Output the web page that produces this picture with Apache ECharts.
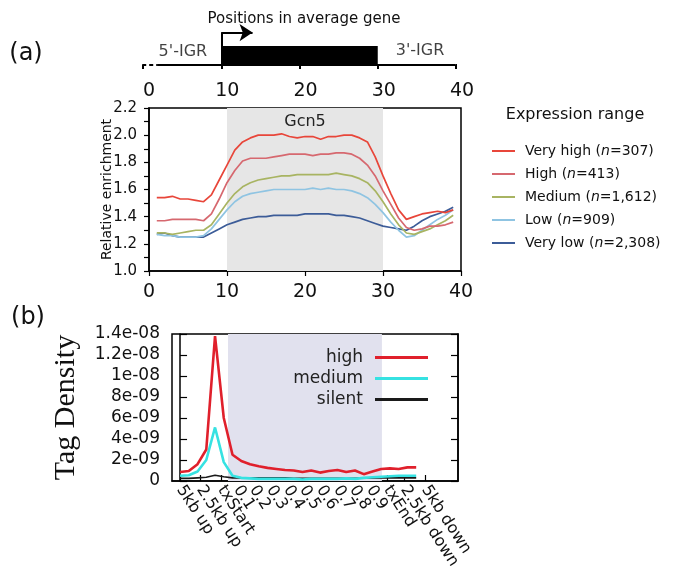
<!DOCTYPE html>
<html>
<head>
<meta charset="utf-8">
<script src="https://cdn.jsdelivr.net/npm/echarts@6/dist/echarts.min.js"></script>
<style>
html, body { margin: 0; padding: 0; background: #fff; }
#chart { width: 679px; height: 588px; }
</style>
</head>
<body>
<div id="chart"></div>
<script>
// ---- panel (a): Gcn5 enrichment over the average gene ----
const positionsA = [1,2,3,4,5,6,7,8,9,10,11,12,13,14,15,16,17,18,19,20,21,22,23,24,25,26,27,28,29,30,31,32,33,34,35,36,37,38,39];
const veryHighA = [1.54,1.54,1.55,1.53,1.53,1.52,1.51,1.56,1.67,1.78,1.89,1.95,1.98,2.00,2.00,2.00,2.01,1.99,1.98,1.99,1.99,1.97,1.99,1.99,2.00,2.00,1.98,1.95,1.84,1.70,1.57,1.45,1.38,1.40,1.42,1.43,1.44,1.43,1.45];
const highA     = [1.37,1.37,1.38,1.38,1.38,1.38,1.37,1.42,1.53,1.65,1.74,1.81,1.83,1.83,1.83,1.84,1.85,1.86,1.86,1.86,1.85,1.86,1.86,1.87,1.87,1.86,1.83,1.78,1.70,1.59,1.49,1.39,1.32,1.30,1.31,1.33,1.33,1.34,1.36];
const mediumA   = [1.28,1.28,1.27,1.28,1.29,1.30,1.30,1.34,1.42,1.50,1.57,1.62,1.65,1.67,1.68,1.69,1.70,1.70,1.71,1.71,1.71,1.71,1.71,1.72,1.71,1.70,1.68,1.65,1.59,1.51,1.42,1.34,1.28,1.27,1.29,1.31,1.34,1.37,1.41];
const lowA      = [1.27,1.26,1.26,1.25,1.25,1.25,1.26,1.31,1.38,1.45,1.51,1.55,1.57,1.58,1.59,1.60,1.60,1.60,1.60,1.60,1.61,1.60,1.61,1.60,1.60,1.59,1.57,1.54,1.49,1.43,1.36,1.30,1.25,1.26,1.30,1.34,1.38,1.41,1.45];
const veryLowA  = [1.27,1.28,1.26,1.25,1.25,1.25,1.25,1.28,1.31,1.34,1.36,1.38,1.39,1.40,1.40,1.41,1.41,1.41,1.41,1.42,1.42,1.42,1.42,1.41,1.41,1.40,1.39,1.37,1.35,1.33,1.32,1.31,1.30,1.33,1.37,1.40,1.42,1.44,1.47];
const namesA  = ["Very high", "High", "Medium", "Low", "Very low"];
const countsA = ["307", "413", "1,612", "909", "2,308"];
const xTicksA = ["0", "10", "20", "30", "40"];
const yTicksA = ["1.0", "1.2", "1.4", "1.6", "1.8", "2.0", "2.2"];
const geneBodyA = [10, 30];

// ---- panel (b): tag density (units of 1e-9) ----
const binsB   = [0,0.5,1,1.5,2,2.5,3,3.5,4,4.5,5,5.5,6,6.5,7,7.5,8,8.5,9,9.5,10,10.5,11,11.5,12,12.5,13,13.5];
const highB   = [0.85,0.95,1.6,3.0,13.8,6.0,2.5,1.9,1.6,1.4,1.25,1.15,1.05,1.0,0.85,1.0,0.8,0.95,1.05,0.85,1.0,0.65,0.9,1.15,1.2,1.15,1.3,1.3];
const mediumB = [0.5,0.55,0.9,2.0,5.1,1.8,0.5,0.3,0.25,0.2,0.2,0.2,0.2,0.2,0.15,0.2,0.2,0.2,0.2,0.25,0.2,0.3,0.35,0.4,0.45,0.5,0.5,0.5];
const silentB = [0.25,0.25,0.3,0.35,0.55,0.4,0.3,0.3,0.3,0.3,0.3,0.3,0.3,0.25,0.25,0.25,0.25,0.25,0.25,0.25,0.25,0.3,0.3,0.3,0.3,0.3,0.3,0.3];
const namesB  = ["high", "medium", "silent"];
const xTicksB = ["5kb up","2.5kb up","txStart","0.1","0.2","0.3","0.4","0.5","0.6","0.7","0.8","0.9","txEnd","2.5kb down","5kb down"];
const xTickPosB = [0,1.14,2.34,3.26,4.17,5.14,6.11,7.03,8,8.97,9.89,10.86,11.83,12.8,14];
const yTicksB = ["0","2e-09","4e-09","6e-09","8e-09","1e-08","1.2e-08","1.4e-08"];
const geneBodyB = [2.74, 11.54];

const colorsA = ["#e8463a", "#d6686f", "#a8b462", "#8fc4e2", "#3c5c98"];
const colorsB = ["#e0202c", "#36e2e2", "#1a1a1a"];
const font = "DejaVu Sans";

let chart = echarts.init(document.getElementById("chart"));

let seriesA = [veryHighA, highA, mediumA, lowA, veryLowA].map(function (vals, k) {
  return {
    name: namesA[k],
    type: "line",
    xAxisIndex: 1,
    yAxisIndex: 1,
    symbol: "none",
    data: positionsA.map(function (p, i) { return [p, vals[i]]; }),
    lineStyle: { color: colorsA[k], width: 1.7 },
    itemStyle: { color: colorsA[k] },
    z: 10 - k,
  };
});
// shaded gene body + label
seriesA[0].markArea = {
  silent: true,
  itemStyle: { color: "#e6e6e6" },
  label: { show: true, position: "insideTop", distance: 6, color: "#222", fontSize: 16, fontFamily: font },
  data: [[{ xAxis: geneBodyA[0], name: "Gcn5" }, { xAxis: geneBodyA[1] }]],
};

let lineW = [2.6, 2.6, 1.6];
let seriesB = [highB, mediumB, silentB].map(function (vals, k) {
  return {
    name: namesB[k],
    type: "line",
    xAxisIndex: 2,
    yAxisIndex: 2,
    symbol: "none",
    data: binsB.map(function (b, i) { return [b, vals[i]]; }),
    lineStyle: { color: colorsB[k], width: lineW[k] },
    itemStyle: { color: colorsB[k] },
    z: 10 - k,
  };
});
seriesB[0].markArea = {
  silent: true,
  itemStyle: { color: "#e1e1ee" },
  data: [[{ xAxis: geneBodyB[0] }, { xAxis: geneBodyB[1] }]],
};

// gene diagram on top
let geneSeries = [
  {
    type: "line", xAxisIndex: 0, yAxisIndex: 0, symbol: "none", silent: true,
    data: [[1.8, 0], [39.9, 0]],
    lineStyle: { color: "#000", width: 2 },
    markArea: {
      silent: true,
      itemStyle: { color: "#000" },
      data: [[{ coord: [geneBodyA[0], 0] }, { coord: [geneBodyA[1], 0.53] }]],
    },
    markLine: {
      silent: true,
      animation: false,
      label: { show: false },
      lineStyle: { color: "#000", width: 2, type: "solid" },
      data: [
        [{ coord: [10, 0], symbol: "none" }, { coord: [10, 0.9], symbol: "none" }],
        [{ coord: [10, 0.9], symbol: "none" }, { coord: [14, 0.9], symbol: "arrow", symbolSize: 13 }],
      ],
    },
  },
  {
    type: "line", xAxisIndex: 0, yAxisIndex: 0, symbol: "none", silent: true, clip: false,
    data: [[-0.1, 0], [1.8, 0]],
    lineStyle: { color: "#000", width: 2, type: [4, 3] },
  },
  {
    type: "line", xAxisIndex: 0, yAxisIndex: 0, symbol: "none", silent: true, clip: false,
    data: [[39.9, 0], [42.4, 0]],
    lineStyle: { color: "#000", width: 2, type: [4, 3] },
  },
  {
    type: "scatter", xAxisIndex: 0, yAxisIndex: 0, symbolSize: 0, silent: true,
    data: [{ value: [5.1, 0.36], name: "5'-IGR" }, { value: [35.4, 0.39], name: "3'-IGR" }],
    label: { show: true, position: "inside", formatter: "{b}", color: "#111", fontSize: 16, fontFamily: font },
  },
];

let option = {
  animation: false,
  backgroundColor: "#fff",
  textStyle: { fontFamily: font },
  graphic: [
    { type: "text", x: 26, y: 54, style: { text: "(a)", fontSize: 24, fontFamily: font, fill: "#111", align: "center", verticalAlign: "middle" } },
    { type: "text", x: 28, y: 318, style: { text: "(b)", fontSize: 24, fontFamily: font, fill: "#111", align: "center", verticalAlign: "middle" } },
    { type: "text", x: 304, y: 19, style: { text: "Positions in average gene", fontSize: 15, fontFamily: font, fill: "#111", align: "center", verticalAlign: "middle" } },
    { type: "text", x: 575, y: 115, style: { text: "Expression range", fontSize: 16, fontFamily: font, fill: "#111", align: "center", verticalAlign: "middle" } },
  ],
  legend: [
    {
      data: namesA,
      orient: "vertical",
      left: 487,
      top: 139,
      icon: "rect",
      itemWidth: 23,
      itemHeight: 2,
      itemGap: 9,
      formatter: function (name) {
        return name + " ({i|n}=" + countsA[namesA.indexOf(name)] + ")";
      },
      textStyle: {
        color: "#111", fontSize: 14, fontFamily: font, lineHeight: 14, padding: [0, 0, 0, 5],
        rich: { i: { fontStyle: "italic", fontSize: 14, fontFamily: font, lineHeight: 14, color: "#111" } },
      },
    },
    {
      data: namesB,
      orient: "vertical",
      align: "right",
      right: 246,
      top: 344,
      icon: "rect",
      itemWidth: 53,
      itemHeight: 3,
      itemGap: 4,
      textStyle: { color: "#222", fontSize: 17, fontFamily: font, lineHeight: 17, padding: [0, 7, 0, 0] },
    },
  ],
  grid: [
    { left: 143, width: 313, top: 29, height: 36 },
    { left: 149, width: 312, top: 108, height: 163, show: true, borderColor: "#000", borderWidth: 1.5, backgroundColor: "transparent" },
    { left: 172, width: 286, top: 334, height: 147, show: true, borderColor: "#000", borderWidth: 1.5, backgroundColor: "transparent" },
  ],
  xAxis: [
    {
      gridIndex: 0, type: "value", min: 0, max: 40, interval: 10,
      axisLine: { show: false },
      axisTick: { show: true, length: 4, lineStyle: { color: "#000", width: 2 } },
      splitLine: { show: false },
      axisLabel: {
        margin: 17, fontSize: 19, color: "#111", fontFamily: font, padding: [0, 0, 0, 12],
        formatter: function (v) { return xTicksA[Math.round(v / 10)]; },
      },
    },
    {
      gridIndex: 1, type: "value", min: 0, max: 40, interval: 10,
      axisLine: { show: true, lineStyle: { color: "#000", width: 1.5 } },
      axisTick: { show: true, length: 5, lineStyle: { color: "#000", width: 1.2 } },
      splitLine: { show: false },
      axisLabel: {
        margin: 12, fontSize: 19, color: "#111", fontFamily: font,
        formatter: function (v) { return xTicksA[Math.round(v / 10)]; },
      },
    },
    {
      gridIndex: 2, type: "value", min: -0.46, max: 15.89,
      axisLine: { show: true, lineStyle: { color: "#000", width: 1.5 } },
      axisTick: { show: true, inside: true, length: 6, customValues: xTickPosB, lineStyle: { color: "#000", width: 1.2 } },
      splitLine: { show: false },
      axisLabel: {
        margin: 6, fontSize: 16, color: "#111", fontFamily: font, rotate: -57,
        customValues: xTickPosB,
        formatter: function (v) {
          let best = 0;
          xTickPosB.forEach(function (p, i) { if (Math.abs(p - v) < Math.abs(xTickPosB[best] - v)) best = i; });
          return xTicksB[best];
        },
      },
    },
  ],
  yAxis: [
    { gridIndex: 0, type: "value", min: 0, max: 1, show: false },
    {
      gridIndex: 1, type: "value", min: 1.0, max: 2.2, interval: 0.2,
      name: "Relative enrichment", nameLocation: "middle", nameGap: 35, nameMoveOverlap: false,
      nameTextStyle: { fontSize: 14, color: "#111", fontFamily: font },
      axisLine: { show: true, lineStyle: { color: "#000", width: 1.5 } },
      axisTick: { show: true, length: 5, lineStyle: { color: "#000", width: 1.2 } },
      minorTick: { show: true, splitNumber: 2, length: 5, lineStyle: { color: "#000", width: 1.2 } },
      splitLine: { show: false },
      minorSplitLine: { show: false },
      axisLabel: {
        margin: 12, fontSize: 15, color: "#111", fontFamily: font,
        formatter: function (v) { return yTicksA[Math.round((v - 1.0) / 0.2)]; },
      },
    },
    {
      gridIndex: 2, type: "value", min: 0, max: 14, interval: 2,
      name: "Tag Density", nameLocation: "middle", nameGap: 91,
      nameTextStyle: { fontSize: 30, color: "#111", fontFamily: "Liberation Serif" },
      axisLine: { show: true, lineStyle: { color: "#000", width: 1.5 } },
      axisTick: { show: true, inside: true, length: 7, lineStyle: { color: "#000", width: 1.2 } },
      splitLine: { show: false },
      axisLabel: {
        margin: 12, fontSize: 17, color: "#111", fontFamily: font,
        formatter: function (v) { return yTicksB[Math.round(v / 2)]; },
      },
    },
    {
      gridIndex: 2, type: "value", min: 0, max: 14, interval: 2, position: "right",
      axisLine: { show: true, lineStyle: { color: "#000", width: 1.5 } },
      axisTick: { show: true, inside: true, length: 7, lineStyle: { color: "#000", width: 1.2 } },
      splitLine: { show: false },
      axisLabel: { show: false },
    },
  ],
  series: geneSeries.concat(seriesA, seriesB),
};
chart.setOption(option);
</script>
</body>
</html>
